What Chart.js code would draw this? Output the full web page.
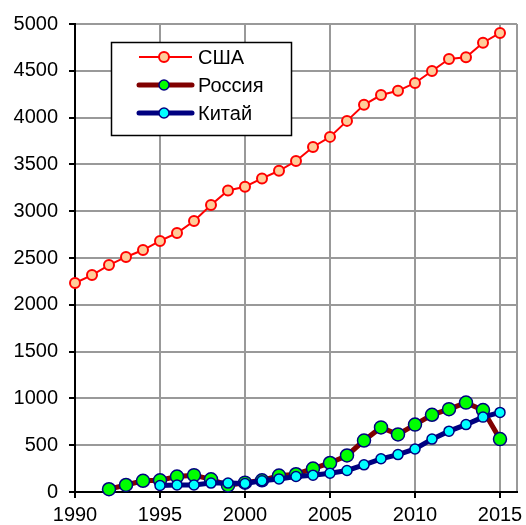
<!DOCTYPE html>
<html>
<head>
<meta charset="utf-8">
<script src="https://cdn.jsdelivr.net/npm/chart.js@4.4.2/dist/chart.umd.min.js"></script>
<style>
  html, body { margin: 0; padding: 0; background: #fff; }
  #wrap { width: 526px; height: 525px; position: relative; }
</style>
</head>
<body>
<div id="wrap"><canvas id="chart"></canvas></div>
<script>
// Data
const years = [1990, 1991, 1992, 1993, 1994, 1995, 1996, 1997, 1998, 1999, 2000, 2001, 2002,
               2003, 2004, 2005, 2006, 2007, 2008, 2009, 2010, 2011, 2012, 2013, 2014, 2015];
const usa = [2233, 2318, 2425, 2511, 2585, 2682, 2767, 2895, 3066, 3222, 3262, 3350, 3432,
             3536, 3686, 3794, 3965, 4137, 4241, 4286, 4370, 4498, 4626, 4645, 4800, 4905];
const russia = [null, null, 30, 75, 120, 125, 165, 180, 135, 70, 100, 125, 175,
                190, 250, 310, 390, 550, 690, 615, 720, 825, 885, 955, 875, 565];
const china = [null, null, null, null, null, 70, 75, 75, 95, 95, 90, 120, 140,
               165, 180, 200, 230, 290, 355, 400, 460, 565, 650, 720, 800, 850];
const seriesNames = ['США', 'Россия', 'Китай'];
// labelled year ticks; the plot runs one year past the last one
const xTickYears = [1990, 1995, 2000, 2005, 2010, 2015];
const xEnd = 2016;

const FONT = { family: '"Liberation Sans", Arial, sans-serif', size: 20 };
const GRID = '#999999';

const toPoints = arr => years.map((y, i) => ({ x: y, y: arr[i] }));

// legend drawn inside the plot, like the original
const boxLegend = {
  id: 'boxLegend',
  afterDraw(chart) {
    const ctx = chart.ctx;
    const left = 111.5, top = 42.5, w = 180, h = 93;
    ctx.save();
    ctx.fillStyle = '#fff';
    ctx.fillRect(left, top, w, h);
    ctx.strokeStyle = '#000';
    ctx.lineWidth = 1.5;
    ctx.strokeRect(left, top, w, h);
    const rows = [57, 85, 113];
    chart.data.datasets.forEach((ds, i) => {
      const y = rows[i];
      ctx.beginPath();
      ctx.strokeStyle = ds.borderColor;
      ctx.lineWidth = ds.borderWidth;
      ctx.lineCap = ds.borderWidth > 3 ? 'round' : 'butt';
      ctx.moveTo(139, y);
      ctx.lineTo(192, y);
      ctx.stroke();
      ctx.beginPath();
      ctx.arc(164, y, ds.legendRadius, 0, Math.PI * 2);
      ctx.fillStyle = ds.pointBackgroundColor;
      ctx.fill();
      ctx.lineWidth = ds.pointBorderWidth;
      ctx.strokeStyle = ds.pointBorderColor;
      ctx.stroke();
      ctx.fillStyle = '#000';
      ctx.font = `${FONT.size}px ${FONT.family}`;
      ctx.textBaseline = 'middle';
      ctx.textAlign = 'left';
      ctx.fillText(ds.label, 198, y + 1);
    });
    ctx.restore();
  }
};

new Chart(document.getElementById('chart'), {
  type: 'line',
  data: {
    datasets: [
      {
        label: seriesNames[0], data: toPoints(usa), order: 2,
        borderColor: '#ff0000', borderWidth: 2,
        pointBackgroundColor: '#ffcc99', pointBorderColor: '#ff0000',
        pointBorderWidth: 2, pointRadius: 5, legendRadius: 5,
      },
      {
        label: seriesNames[1], data: toPoints(russia), order: 1,
        borderColor: '#800000', borderWidth: 5,
        pointBackgroundColor: '#00ff00', pointBorderColor: '#000080',
        pointBorderWidth: 1.5, pointRadius: 6.5, legendRadius: 5,
      },
      {
        label: seriesNames[2], data: toPoints(china), order: 0,
        borderColor: '#000080', borderWidth: 5,
        pointBackgroundColor: '#00ffff', pointBorderColor: '#000080',
        pointBorderWidth: 1.5, pointRadius: 5, legendRadius: 5,
      },
    ],
  },
  options: {
    responsive: true, maintainAspectRatio: false, animation: false,
    clip: false,
    layout: { padding: { left: 0, right: 9, top: 24, bottom: 0 } },
    elements: { line: { tension: 0 } },
    plugins: { legend: { display: false }, tooltip: { enabled: false } },
    scales: {
      x: {
        type: 'linear', min: xTickYears[0], max: xEnd,
        afterBuildTicks: s => { s.ticks = xTickYears.concat([xEnd]).map(v => ({ value: v })); },
        afterFit: s => { s.height = 33; },
        border: { color: '#000', width: 2 },
        grid: {
          color: GRID, lineWidth: 2, tickLength: 6,
          tickColor: c => (c.tick && xTickYears.includes(c.tick.value) ? '#000' : 'rgba(0,0,0,0)'),
        },
        ticks: {
          maxRotation: 0, autoSkip: false, padding: 5,
          color: '#000', font: FONT,
          callback: v => (xTickYears.includes(v) ? String(v) : ''),
        },
      },
      y: {
        min: 0, max: 5000,
        afterFit: s => { s.width = 75; },
        border: { color: '#000', width: 2 },
        grid: { color: GRID, lineWidth: 2, tickLength: 6, tickColor: '#000' },
        ticks: { stepSize: 500, padding: 11, color: '#000', font: FONT, callback: v => String(v) },
      },
    },
  },
  plugins: [boxLegend],
});
</script>
</body>
</html>
